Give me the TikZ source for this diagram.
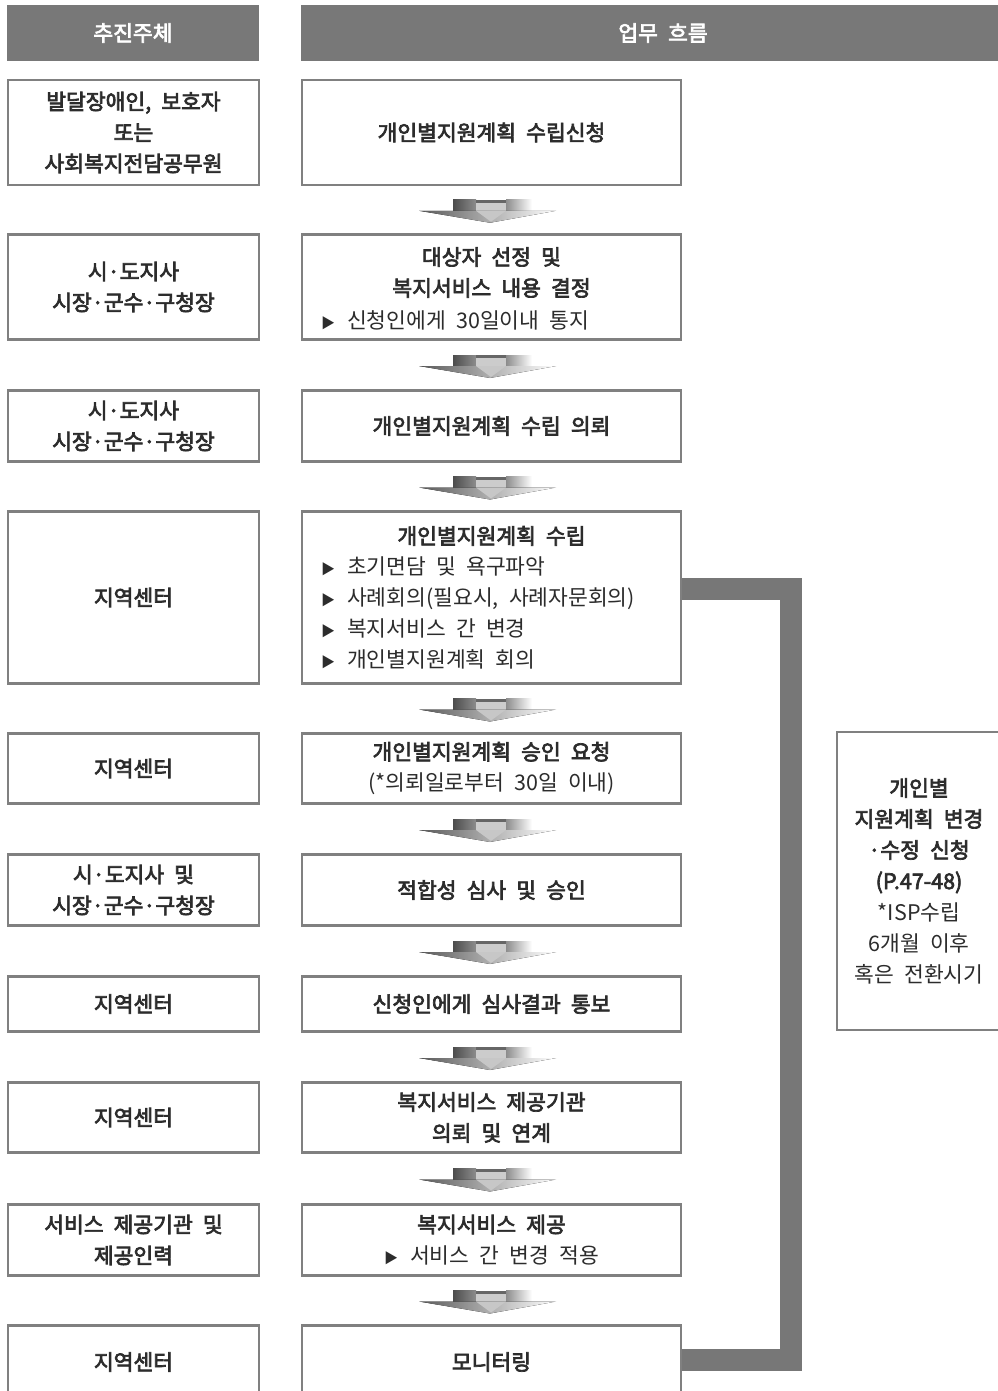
\documentclass[tikz,border=0pt]{standalone}
\usepackage{fontspec}
\setmainfont{Noto Sans CJK KR}[WordSpace=2.1, BoldFont=Noto Sans CJK KR, BoldFeatures={FakeBold=3.2}]
\usetikzlibrary{calc}
\definecolor{hdrgray}{HTML}{787878}
\definecolor{bordgray}{HTML}{808080}
\definecolor{txtgray}{HTML}{2C2C2C}
\definecolor{bandgray}{HTML}{777777}
\newcommand\bul{{\fontsize{14}{14}\selectfont ▶}\hspace{12pt}}
\tikzset{
  hdrbox/.style={fill=hdrgray, inner sep=0pt, text=white, font=\bfseries\fontsize{21.5}{24}\selectfont},
  stepbox/.style={draw=bordgray, line width=2.6pt, fill=white, inner sep=0pt, text=txtgray, align=center, font=\bfseries\fontsize{21.5}{31}\selectfont},
  lcol/.style={stepbox, minimum width=251pt},
  mcol/.style={stepbox, minimum width=379pt},
  plaintxt/.style={inner sep=0pt, text=txtgray, font=\fontsize{21.5}{31}\selectfont},
  boldtxt/.style={inner sep=0pt, text=txtgray, font=\bfseries\fontsize{21.5}{31}\selectfont},
  bandline/.style={draw=bandgray, line width=22pt, line join=miter},
  flowarrow/.pic={
    \fill[left color=black!70, right color=black!45] (-37,-10) rectangle (-14,1);
    \fill[black!60] (-14,-10) rectangle (16,-7);
    \fill[black!20] (-14,-7) rectangle (16,1);
    \fill[left color=black!45, right color=white] (16,-10) rectangle (42,1);
    \fill[left color=black!65, right color=white] (-71,1) -- (66,1) -- (0,13) -- cycle;
    \fill[black!22] (-14,1) -- (16,1) -- (1,12) -- cycle;
  }
}
\begin{document}
\begin{tikzpicture}[x=1pt, y=-1pt]
\useasboundingbox (0,0) rectangle (997,1391);
% headers
\node[hdrbox, minimum width=252pt, minimum height=56pt] (h1) at (133,33) {추진주체};
\node[hdrbox, minimum width=724pt, minimum height=56pt] (h2) at (663,33) {업무 흐름};
% left column
\node[lcol, minimum height=105pt] (l1) at (133.5,132.5) {발달장애인, 보호자\\또는\\사회복지전담공무원};
\node[lcol, minimum height=105pt] (l2) at (133.5,287) {시·도지사\\시장·군수·구청장};
\node[lcol, minimum height=71pt] (l3) at (133.5,426) {시·도지사\\시장·군수·구청장};
\node[lcol, minimum height=172pt] (l4) at (133.5,597.5) {지역센터};
\node[lcol, minimum height=70pt] (l5) at (133.5,768.5) {지역센터};
\node[lcol, minimum height=71pt] (l6) at (133.5,890) {시·도지사 및\\시장·군수·구청장};
\node[lcol, minimum height=55pt] (l7) at (133.5,1004) {지역센터};
\node[lcol, minimum height=70pt] (l8) at (133.5,1117.5) {지역센터};
\node[lcol, minimum height=71pt] (l9) at (133.5,1240) {서비스 제공기관 및\\제공인력};
\node[lcol, minimum height=73pt] (l10) at (133.5,1362) {지역센터};
% middle column
\node[mcol, minimum height=105pt] (m1) at (491.5,132.5) {개인별지원계획 수립신청};
\node[mcol, minimum height=105pt] (m2) at (491.5,287) {};
\node[boldtxt, anchor=base] (m2a) at (491.5,265) {대상자 선정 및};
\node[boldtxt, anchor=base] (m2b) at (491.5,296) {복지서비스 내용 결정};
\node[plaintxt, anchor=base west] (m2c) at (321,328) {\bul 신청인에게 30일이내 통지};
\node[mcol, minimum height=71pt] (m3) at (491.5,426) {개인별지원계획 수립 의뢰};
\node[mcol, minimum height=172pt] (m4) at (491.5,597.5) {};
\node[boldtxt, anchor=base] (m4a) at (491.5,544) {개인별지원계획 수립};
\node[plaintxt, anchor=base west] (m4b) at (321,574) {\bul 초기면담 및 욕구파악};
\node[plaintxt, anchor=base west] (m4c) at (321,605) {\bul 사례회의(필요시, 사례자문회의)};
\node[plaintxt, anchor=base west] (m4d) at (321,636) {\bul 복지서비스 간 변경};
\node[plaintxt, anchor=base west] (m4e) at (321,667) {\bul 개인별지원계획 회의};
\node[mcol, minimum height=70pt] (m5) at (491.5,768.5) {개인별지원계획 승인 요청\\{\mdseries (*의뢰일로부터 30일 이내)}};
\node[mcol, minimum height=71pt] (m6) at (491.5,890) {적합성 심사 및 승인};
\node[mcol, minimum height=55pt] (m7) at (491.5,1004) {신청인에게 심사결과 통보};
\node[mcol, minimum height=70pt] (m8) at (491.5,1117.5) {복지서비스 제공기관\\의뢰 및 연계};
\node[mcol, minimum height=71pt] (m9) at (491.5,1240) {복지서비스 제공\\{\mdseries \bul 서비스 간 변경 적용}};
\node[mcol, minimum height=73pt] (m10) at (491.5,1362) {모니터링};
% right box
\node[stepbox, minimum width=164pt, minimum height=298pt] (side) at (919,881)
  {개인별\\지원계획 변경\\·수정 신청\\(P.47-48)\\{\mdseries *ISP수립}\\{\mdseries 6개월 이후}\\{\mdseries 혹은 전환시기}};
% feedback band
\draw[bandline] ([yshift=8.5pt]m4.east) -- ++(109,0) |- ([yshift=2.5pt]m10.east);
% flow arrows
\pic at ($(m1.south)!0.5!(m2.north)+(-1.5,0)$) {flowarrow};
\pic at ($(m2.south)!0.5!(m3.north)+(-1.5,0)$) {flowarrow};
\pic at ($(m3.south)!0.5!(m4.north)+(-1.5,0)$) {flowarrow};
\pic at ($(m4.south)!0.5!(m5.north)+(-1.5,0)$) {flowarrow};
\pic at ($(m5.south)!0.5!(m6.north)+(-1.5,0)$) {flowarrow};
\pic at ($(m6.south)!0.5!(m7.north)+(-1.5,0)$) {flowarrow};
\pic at ($(m7.south)!0.5!(m8.north)+(-1.5,0)$) {flowarrow};
\pic at ($(m8.south)!0.5!(m9.north)+(-1.5,0)$) {flowarrow};
\pic at ($(m9.south)!0.5!(m10.north)+(-1.5,0)$) {flowarrow};
\end{tikzpicture}
\end{document}
